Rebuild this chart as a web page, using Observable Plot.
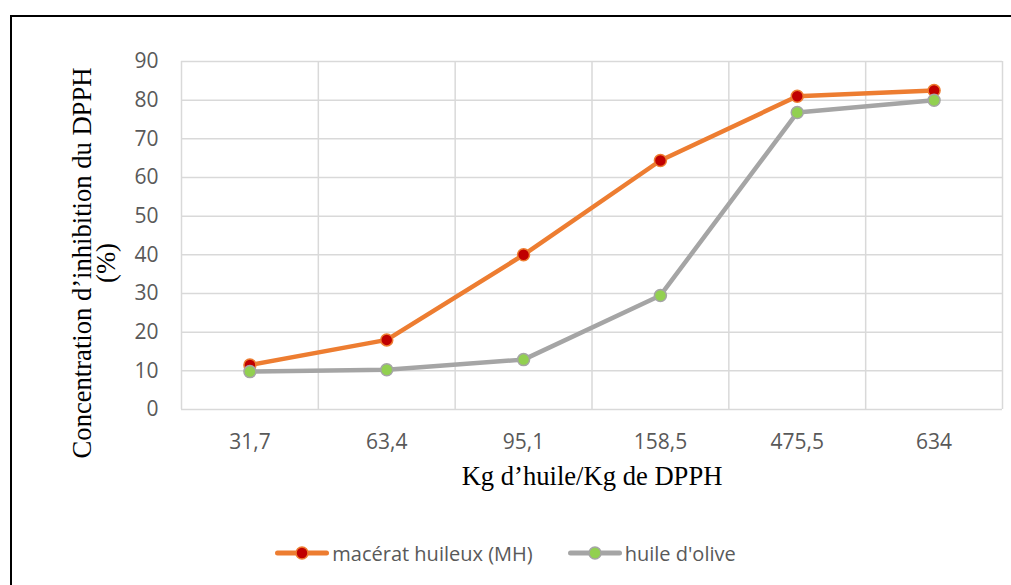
<!DOCTYPE html>
<html>
<head>
<meta charset="utf-8">
<script src="https://cdn.jsdelivr.net/npm/d3@7"></script>
<script src="https://cdn.jsdelivr.net/npm/@observablehq/plot@0.6"></script>
<style>
  html, body { margin: 0; padding: 0; background: #fff; overflow: hidden; }
  #wrap { position: relative; width: 1011px; height: 585px; }
  #frame { position: absolute; left: 10px; top: 15px; width: 1020px; height: 600px; border: 2px solid #000; box-sizing: border-box; pointer-events: none; }
  #chart { position: absolute; left: 0; top: 0; }
  #legend { position: absolute; left: 0; top: 540px; width: 1011px; height: 26px; display: flex; justify-content: center; align-items: center; gap: 35px;
            font-family: "Open Sans", sans-serif; font-size: 20px; color: #595959; }
  .item { display: flex; align-items: center; gap: 3px; }
</style>
</head>
<body>
<div id="wrap">
  <div id="chart"></div>
  <div id="legend"></div>
  <div id="frame"></div>
</div>
<script>
const doses = ["31,7", "63,4", "95,1", "158,5", "475,5", "634"];
const macerat = [11.5, 18, 40, 64.4, 81, 82.5];
const olive = [9.8, 10.3, 12.9, 29.5, 76.8, 80];
const yTicks = [0, 10, 20, 30, 40, 50, 60, 70, 80, 90];
const seriesNames = ["macérat huileux (MH)", "huile d'olive"];
const lineColors = ["#ED7D31", "#A5A5A5"];
const dotColors = ["#C00000", "#92D050"];
const yTitle = ["Concentration d’inhibition du DPPH", "(%)"];
const xTitle = "Kg d’huile/Kg de DPPH";

const rows = (vals) => vals.map((v, i) => ({pos: i + 0.5, dose: doses[i], v}));
const dataMH = rows(macerat);
const dataOl = rows(olive);
const bounds = d3.range(doses.length + 1);
const centers = doses.map((d, i) => i + 0.5);
const serif = "'Liberation Serif', 'Times New Roman', serif";

const chart = Plot.plot({
  width: 1011,
  height: 520,
  marginLeft: 181,
  marginRight: 9,
  marginTop: 61,
  marginBottom: 111,
  style: {fontFamily: "'Open Sans', sans-serif", fontSize: "21px", color: "#595959", background: "transparent"},
  x: {type: "linear", domain: [0, doses.length]},
  y: {domain: [0, 90]},
  marks: [
    Plot.gridY(yTicks, {stroke: "#D9D9D9", strokeOpacity: 1, strokeWidth: 1.5}),
    Plot.ruleX(bounds, {stroke: "#D9D9D9", strokeOpacity: 1, strokeWidth: 1.5}),
    Plot.axisY(yTicks, {tickSize: 0, tickPadding: 23, label: null, fill: "#595959"}),
    Plot.axisX(centers, {tickSize: 0, tickPadding: 25, label: null, fill: "#595959",
      tickFormat: (d) => doses[Math.round(d - 0.5)]}),
    Plot.line(dataMH, {x: "pos", y: "v", stroke: lineColors[0], strokeWidth: 4.5}),
    Plot.dot(dataMH, {x: "pos", y: "v", r: 6, fill: dotColors[0], stroke: lineColors[0], strokeWidth: 1.5}),
    Plot.line(dataOl, {x: "pos", y: "v", stroke: lineColors[1], strokeWidth: 4.5}),
    Plot.dot(dataOl, {x: "pos", y: "v", r: 6, fill: dotColors[1], stroke: lineColors[1], strokeWidth: 1.5}),
    Plot.text([yTitle[0]], {frameAnchor: "left", textAnchor: "middle", text: (d) => d, rotate: -90, dx: -99, dy: 27.5,
      fontFamily: serif, fontSize: 26.6, fill: "#000"}),
    Plot.text([yTitle[1]], {frameAnchor: "left", textAnchor: "middle", text: (d) => d, rotate: -90, dx: -75, dy: 27.5,
      fontFamily: serif, fontSize: 26.6, fill: "#000"}),
    Plot.text([xTitle], {frameAnchor: "bottom", text: (d) => d, dy: 75,
      fontFamily: serif, fontSize: 26.6, fill: "#000"})
  ]
});
document.getElementById("chart").appendChild(chart);

const legend = document.getElementById("legend");
seriesNames.forEach((name, i) => {
  const item = document.createElement("div");
  item.className = "item";
  item.innerHTML = `<svg width="54" height="16" viewBox="0 0 54 16">
      <line x1="2.5" y1="8" x2="51.5" y2="8" stroke="${lineColors[i]}" stroke-width="5" stroke-linecap="round"/>
      <circle cx="27" cy="8" r="6" fill="${dotColors[i]}" stroke="${lineColors[i]}" stroke-width="1.5"/>
    </svg><span>${name}</span>`;
  legend.appendChild(item);
});
</script>
</body>
</html>
